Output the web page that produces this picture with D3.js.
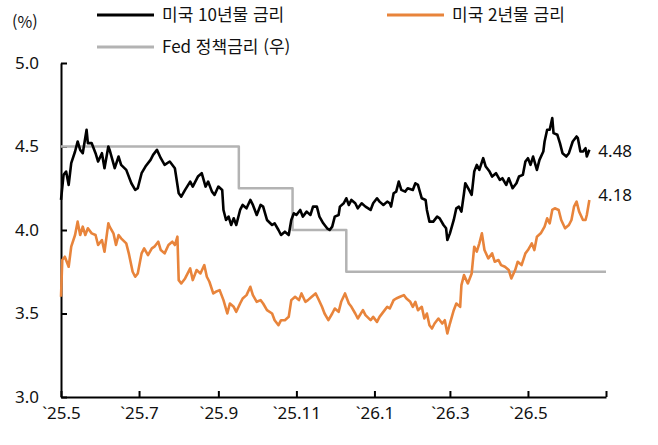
<!DOCTYPE html>
<html lang="ko">
<head>
<meta charset="utf-8">
<title>미국 금리</title>
<script src="https://cdn.jsdelivr.net/npm/d3@7"></script>
<style>
  body { margin: 0; background: #fff; }
  svg text { font-family: "Noto Sans CJK KR", "Noto Sans", sans-serif; fill: #111; }
  svg .num { font-family: "Noto Sans", "Noto Sans CJK KR", sans-serif; }
  .line { fill: none; stroke-linejoin: round; }
</style>
</head>
<body>
<div id="chart"></div>
<script>
// 미국 10년물 금리
var us10y = [
  ["2025-05-01",4.18],["2025-05-03",4.33],["2025-05-05",4.35],["2025-05-07",4.27],["2025-05-09",4.40],
  ["2025-05-12",4.47],["2025-05-14",4.53],["2025-05-16",4.48],["2025-05-18",4.46],["2025-05-21",4.60],
  ["2025-05-22",4.52],["2025-05-25",4.52],["2025-05-28",4.46],["2025-05-30",4.41],["2025-06-02",4.46],
  ["2025-06-04",4.37],["2025-06-07",4.50],["2025-06-08",4.48],["2025-06-12",4.37],["2025-06-15",4.44],
  ["2025-06-17",4.39],["2025-06-21",4.36],["2025-06-25",4.28],["2025-06-28",4.24],["2025-06-30",4.25],
  ["2025-07-03",4.34],["2025-07-06",4.38],["2025-07-10",4.42],["2025-07-12",4.45],["2025-07-15",4.48],
  ["2025-07-18",4.43],["2025-07-21",4.39],["2025-07-25",4.41],["2025-07-29",4.37],["2025-07-30",4.32],
  ["2025-08-01",4.22],["2025-08-03",4.20],["2025-08-06",4.24],["2025-08-10",4.29],["2025-08-12",4.26],
  ["2025-08-16",4.32],["2025-08-19",4.34],["2025-08-22",4.26],["2025-08-24",4.29],["2025-08-27",4.23],
  ["2025-08-29",4.21],["2025-09-01",4.26],["2025-09-04",4.24],["2025-09-05",4.12],["2025-09-07",4.06],
  ["2025-09-09",4.08],["2025-09-11",4.03],["2025-09-13",4.07],["2025-09-15",4.03],["2025-09-18",4.12],
  ["2025-09-20",4.15],["2025-09-23",4.13],["2025-09-26",4.18],["2025-09-28",4.15],["2025-10-01",4.09],
  ["2025-10-04",4.15],["2025-10-06",4.14],["2025-10-09",4.06],["2025-10-13",4.03],["2025-10-15",4.04],
  ["2025-10-18",4.00],["2025-10-20",3.97],["2025-10-23",3.99],["2025-10-26",3.97],["2025-10-28",4.06],
  ["2025-10-30",4.10],["2025-11-01",4.09],["2025-11-04",4.12],["2025-11-06",4.08],["2025-11-09",4.11],
  ["2025-11-12",4.09],["2025-11-14",4.14],["2025-11-17",4.14],["2025-11-19",4.08],["2025-11-22",4.04],
  ["2025-11-25",4.01],["2025-11-27",4.00],["2025-11-29",4.02],["2025-12-01",4.08],["2025-12-04",4.09],
  ["2025-12-05",4.14],["2025-12-08",4.16],["2025-12-10",4.19],["2025-12-12",4.15],["2025-12-14",4.18],
  ["2025-12-17",4.16],["2025-12-19",4.13],["2025-12-22",4.16],["2025-12-25",4.14],["2025-12-29",4.12],
  ["2025-12-31",4.16],["2026-01-03",4.19],["2026-01-05",4.17],["2026-01-08",4.15],["2026-01-11",4.17],
  ["2026-01-13",4.16],["2026-01-14",4.14],["2026-01-16",4.22],["2026-01-18",4.23],["2026-01-20",4.29],
  ["2026-01-22",4.24],["2026-01-25",4.23],["2026-01-27",4.25],["2026-01-31",4.24],["2026-02-02",4.28],
  ["2026-02-04",4.27],["2026-02-07",4.19],["2026-02-10",4.18],["2026-02-11",4.12],["2026-02-13",4.05],
  ["2026-02-16",4.05],["2026-02-19",4.08],["2026-02-21",4.07],["2026-02-24",4.03],["2026-02-26",4.01],
  ["2026-02-27",3.94],["2026-03-01",3.98],["2026-03-04",4.06],["2026-03-06",4.13],["2026-03-08",4.14],
  ["2026-03-10",4.11],["2026-03-12",4.22],["2026-03-13",4.28],["2026-03-16",4.24],["2026-03-18",4.21],
  ["2026-03-20",4.35],["2026-03-22",4.39],["2026-03-24",4.36],["2026-03-27",4.43],["2026-03-29",4.38],
  ["2026-04-01",4.35],["2026-04-03",4.32],["2026-04-06",4.34],["2026-04-09",4.30],["2026-04-11",4.31],
  ["2026-04-14",4.27],["2026-04-16",4.31],["2026-04-19",4.25],["2026-04-22",4.28],["2026-04-24",4.32],
  ["2026-04-27",4.33],["2026-04-29",4.41],["2026-05-01",4.43],["2026-05-03",4.39],["2026-05-05",4.44],
  ["2026-05-08",4.36],["2026-05-10",4.42],["2026-05-13",4.47],["2026-05-14",4.53],["2026-05-16",4.60],
  ["2026-05-18",4.60],["2026-05-20",4.67],["2026-05-21",4.58],["2026-05-24",4.57],["2026-05-26",4.52],
  ["2026-05-28",4.46],["2026-05-31",4.44],["2026-06-02",4.46],["2026-06-05",4.53],["2026-06-08",4.56],
  ["2026-06-09",4.55],["2026-06-11",4.47],["2026-06-13",4.47],["2026-06-15",4.49],["2026-06-16",4.44],
  ["2026-06-18",4.48]
];

// 미국 2년물 금리
var us2y = [
  ["2025-05-01",3.60],["2025-05-02",3.82],["2025-05-04",3.84],["2025-05-07",3.78],["2025-05-09",3.90],
  ["2025-05-12",3.97],["2025-05-14",4.05],["2025-05-16",3.97],["2025-05-18",4.02],["2025-05-20",3.97],
  ["2025-05-22",4.01],["2025-05-25",3.98],["2025-05-28",3.97],["2025-05-30",3.91],["2025-06-02",3.94],
  ["2025-06-04",3.87],["2025-06-07",4.04],["2025-06-08",4.02],["2025-06-11",3.98],["2025-06-13",3.91],
  ["2025-06-15",3.97],["2025-06-17",3.95],["2025-06-21",3.92],["2025-06-23",3.86],["2025-06-26",3.75],
  ["2025-06-28",3.72],["2025-06-30",3.74],["2025-07-03",3.86],["2025-07-05",3.89],["2025-07-08",3.85],
  ["2025-07-11",3.89],["2025-07-13",3.90],["2025-07-16",3.93],["2025-07-18",3.88],["2025-07-21",3.86],
  ["2025-07-24",3.91],["2025-07-27",3.93],["2025-07-29",3.91],["2025-07-31",3.96],["2025-08-01",3.70],
  ["2025-08-03",3.68],["2025-08-06",3.71],["2025-08-10",3.77],["2025-08-12",3.70],["2025-08-15",3.76],
  ["2025-08-18",3.74],["2025-08-21",3.79],["2025-08-23",3.72],["2025-08-25",3.69],["2025-08-28",3.62],
  ["2025-08-30",3.63],["2025-09-02",3.64],["2025-09-05",3.58],["2025-09-08",3.50],["2025-09-10",3.56],
  ["2025-09-13",3.54],["2025-09-15",3.51],["2025-09-18",3.56],["2025-09-20",3.59],["2025-09-23",3.61],
  ["2025-09-26",3.66],["2025-09-28",3.61],["2025-10-01",3.57],["2025-10-04",3.58],["2025-10-06",3.56],
  ["2025-10-09",3.52],["2025-10-13",3.50],["2025-10-15",3.46],["2025-10-18",3.43],["2025-10-20",3.46],
  ["2025-10-23",3.46],["2025-10-26",3.48],["2025-10-28",3.58],["2025-10-31",3.60],["2025-11-03",3.58],
  ["2025-11-05",3.62],["2025-11-08",3.57],["2025-11-10",3.58],["2025-11-13",3.60],["2025-11-16",3.62],
  ["2025-11-18",3.59],["2025-11-21",3.54],["2025-11-23",3.50],["2025-11-26",3.46],["2025-11-29",3.50],
  ["2025-12-01",3.53],["2025-12-04",3.51],["2025-12-06",3.57],["2025-12-09",3.62],["2025-12-12",3.56],
  ["2025-12-14",3.54],["2025-12-17",3.50],["2025-12-19",3.47],["2025-12-23",3.52],["2025-12-25",3.49],
  ["2025-12-29",3.46],["2025-12-31",3.48],["2026-01-03",3.45],["2026-01-05",3.48],["2026-01-09",3.52],
  ["2026-01-11",3.54],["2026-01-13",3.53],["2026-01-16",3.58],["2026-01-18",3.59],["2026-01-21",3.60],
  ["2026-01-24",3.61],["2026-01-26",3.59],["2026-01-29",3.57],["2026-01-31",3.54],["2026-02-02",3.57],
  ["2026-02-04",3.52],["2026-02-07",3.54],["2026-02-09",3.47],["2026-02-11",3.50],["2026-02-13",3.43],
  ["2026-02-15",3.41],["2026-02-17",3.44],["2026-02-20",3.47],["2026-02-23",3.44],["2026-02-25",3.46],
  ["2026-02-27",3.38],["2026-03-01",3.44],["2026-03-04",3.52],["2026-03-06",3.56],["2026-03-09",3.54],
  ["2026-03-10",3.67],["2026-03-12",3.73],["2026-03-15",3.68],["2026-03-18",3.74],["2026-03-20",3.90],
  ["2026-03-22",3.87],["2026-03-24",3.92],["2026-03-26",3.98],["2026-03-28",3.88],["2026-03-31",3.83],
  ["2026-04-03",3.86],["2026-04-05",3.81],["2026-04-08",3.82],["2026-04-10",3.79],["2026-04-13",3.78],
  ["2026-04-16",3.76],["2026-04-18",3.71],["2026-04-21",3.76],["2026-04-23",3.81],["2026-04-26",3.79],
  ["2026-04-29",3.86],["2026-05-01",3.88],["2026-05-04",3.92],["2026-05-06",3.88],["2026-05-08",3.96],
  ["2026-05-11",3.98],["2026-05-14",4.02],["2026-05-16",4.07],["2026-05-18",4.04],["2026-05-20",4.12],
  ["2026-05-22",4.13],["2026-05-25",4.12],["2026-05-27",4.06],["2026-05-30",4.01],["2026-06-02",4.03],
  ["2026-06-04",4.06],["2026-06-06",4.14],["2026-06-08",4.17],["2026-06-10",4.11],["2026-06-13",4.06],
  ["2026-06-15",4.06],["2026-06-16",4.09],["2026-06-18",4.18]
];

// Fed 정책금리 (우)
var fedRate = [
  ["2025-05-01",4.50],["2025-09-17",4.25],["2025-10-29",4.00],["2025-12-10",3.75],["2026-07-01",3.75]
];

var yTicks = [3.0, 3.5, 4.0, 4.5, 5.0];
var xTicks = ["2025-05-01","2025-07-01","2025-09-01","2025-11-01","2026-01-01","2026-03-01","2026-05-01","2026-07-01"];
var xTickLabels = ["`25.5","`25.7","`25.9","`25.11","`26.1","`26.3","`26.5",""];
var endLabels = ["4.48", "4.18"];

var parse = d3.timeParse("%Y-%m-%d");

var W = 658, H = 445;
var margin = { top: 63, right: 52, bottom: 48, left: 61 };
var width = W - margin.left - margin.right;
var height = H - margin.top - margin.bottom;

var svg = d3.select("#chart").append("svg")
  .attr("width", W)
  .attr("height", H);

var g = svg.append("g")
  .attr("transform", "translate(" + margin.left + "," + margin.top + ")");

var x = d3.scaleTime()
  .domain([parse("2025-05-01"), parse("2026-07-01")])
  .range([0, width]);

var y = d3.scaleLinear()
  .domain([3.0, 5.0])
  .range([height, 0]);

var line = d3.line()
  .x(function (d) { return x(parse(d[0])); })
  .y(function (d) { return y(d[1]); });

var stepLine = d3.line()
  .curve(d3.curveStepAfter)
  .x(function (d) { return x(parse(d[0])); })
  .y(function (d) { return y(d[1]); });

// axes
g.append("g")
  .call(d3.axisLeft(y)
    .tickValues(yTicks)
    .tickFormat(d3.format(".1f"))
    .tickSizeInner(-6)
    .tickSizeOuter(0)
    .tickPadding(22));

g.append("g")
  .attr("transform", "translate(0," + height + ")")
  .call(d3.axisBottom(x)
    .tickValues(xTicks.map(parse))
    .tickFormat(function (d, i) { return xTickLabels[i]; })
    .tickSizeInner(-6)
    .tickSizeOuter(0)
    .tickPadding(10));

g.selectAll(".domain, .tick line").attr("stroke", "#000").attr("stroke-width", 2);
g.selectAll(".tick text")
  .attr("class", "num")
  .style("font-size", "17px")
  .attr("fill", "#111");

// lines
g.append("path")
  .datum(fedRate)
  .attr("class", "line")
  .attr("stroke", "#b3b3b3")
  .attr("stroke-width", 2.5)
  .attr("d", stepLine);

g.append("path")
  .datum(us2y)
  .attr("class", "line")
  .attr("stroke", "#e8843b")
  .attr("stroke-width", 2.6)
  .attr("d", line);

g.append("path")
  .datum(us10y)
  .attr("class", "line")
  .attr("stroke", "#000")
  .attr("stroke-width", 2.6)
  .attr("d", line);

// end labels
[us10y, us2y].forEach(function (s, i) {
  var last = s[s.length - 1];
  g.append("text")
    .attr("class", "num")
    .attr("x", x(parse(last[0])) + 9)
    .attr("y", y(last[1]) + (i === 0 ? 1 : -5))
    .attr("dy", "0.35em")
    .style("font-size", "17px")
    .text(endLabels[i]);
});

// unit
svg.append("text")
  .attr("x", 12)
  .attr("y", 22)
  .attr("dy", "0.35em")
  .style("font-size", "16px")
  .text("(%)");

// legend
var legend = [
  { name: "미국 10년물 금리", color: "#000", x: 97, y: 15 },
  { name: "미국 2년물 금리", color: "#e8843b", x: 387, y: 15 },
  { name: "Fed 정책금리 (우)", color: "#b3b3b3", x: 97, y: 47 }
];

var lg = svg.append("g").selectAll("g")
  .data(legend)
  .join("g")
  .attr("transform", function (d) { return "translate(" + d.x + "," + d.y + ")"; });

lg.append("line")
  .attr("x1", 0).attr("x2", 57)
  .attr("stroke", function (d) { return d.color; })
  .attr("stroke-width", 3);

lg.append("text")
  .attr("x", 65)
  .attr("dy", "0.35em")
  .style("font-size", "17px")
  .text(function (d) { return d.name; });
</script>
</body>
</html>
